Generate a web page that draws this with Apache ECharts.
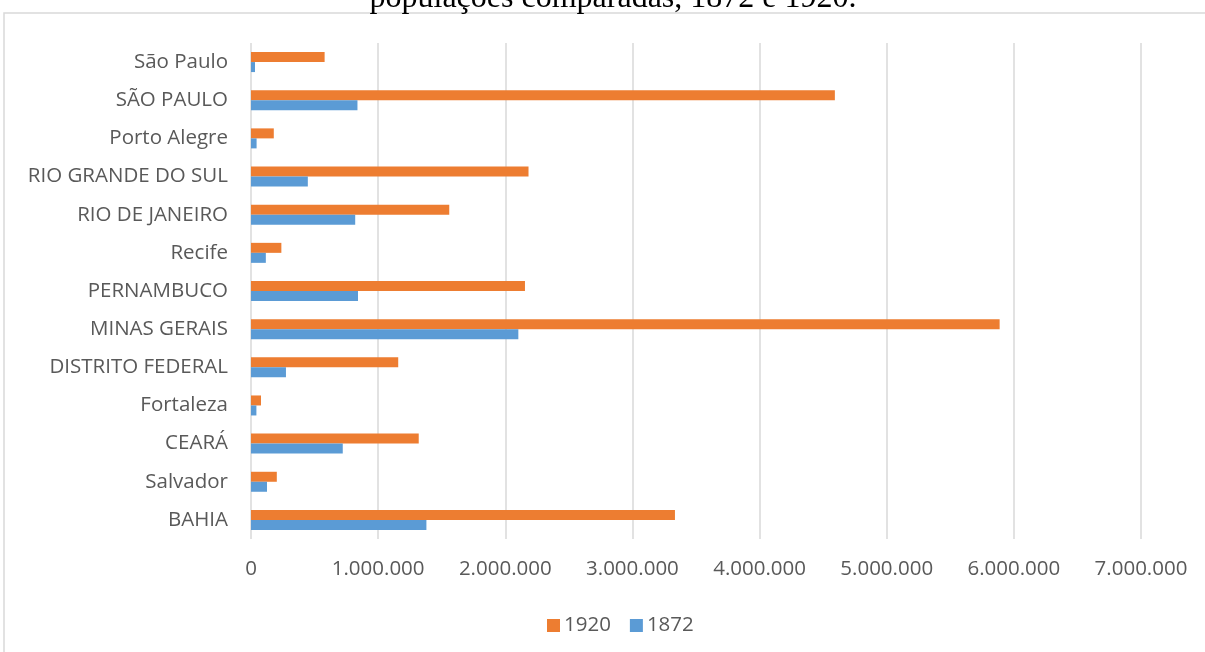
<!DOCTYPE html>
<html>
<head>
<meta charset="utf-8">
<script src="https://cdn.jsdelivr.net/npm/echarts@6/dist/echarts.min.js"></script>
<style>
  html, body { margin: 0; padding: 0; background: #ffffff; }
  #chart { width: 1205px; height: 652px; }
</style>
</head>
<body>
<div id="chart"></div>
<script>
// Localities, listed bottom to top as they appear on the category axis
const categories = ['BAHIA', 'Salvador', 'CEARÁ', 'Fortaleza', 'DISTRITO FEDERAL', 'MINAS GERAIS',
  'PERNAMBUCO', 'Recife', 'RIO DE JANEIRO', 'RIO GRANDE DO SUL', 'Porto Alegre', 'SÃO PAULO', 'São Paulo'];

// Population in 1920
const pop1920 = [3334465, 203000, 1319228, 78536, 1157873, 5888174,
  2154835, 238843, 1559371, 2182713, 179263, 4592188, 579033];

// Population in 1872
const pop1872 = [1379616, 126000, 721686, 42458, 274972, 2102689,
  841539, 116671, 819604, 446962, 43998, 837354, 31385];

const seriesNames = ['1920', '1872'];
const titleText = 'populações comparadas, 1872 e 1920.';

// Thousands separated by dots (pt-BR style)
function fmt(v) {
  return String(Math.round(v)).replace(/\B(?=(\d{3})+(?!\d))/g, '.');
}

const chart = echarts.init(document.getElementById('chart'), null, { renderer: 'canvas' });
const labelFont = '"Open Sans", "Noto Sans", sans-serif';

chart.setOption({
  backgroundColor: '#ffffff',
  animation: false,
  graphic: [
    {
      type: 'rect',
      shape: { x: 4, y: 13, width: 1220, height: 660 },
      style: { fill: 'none', stroke: '#d9d9d9', lineWidth: 1.5 },
      silent: true
    },
    {
      type: 'text',
      style: {
        x: 613, y: -1,
        text: titleText,
        font: '32px "Liberation Serif", "Times New Roman", serif',
        fill: '#000000',
        align: 'center',
        verticalAlign: 'middle'
      },
      silent: true
    }
  ],
  grid: { left: 251, right: 64, top: 43, bottom: 113, containLabel: false },
  legend: {
    data: seriesNames,
    left: 542,
    top: 610,
    itemWidth: 13,
    itemHeight: 13,
    itemGap: 19,
    icon: 'rect',
    textStyle: { fontFamily: labelFont, fontSize: 20.5, color: '#595959', padding: [0, 0, 0, -1] }
  },
  xAxis: {
    type: 'value',
    min: 0,
    max: 7000000,
    interval: 1000000,
    axisLine: { show: false },
    axisTick: { show: false },
    splitLine: { show: true, lineStyle: { color: '#d9d9d9', width: 1.5 } },
    axisLabel: {
      formatter: fmt,
      fontFamily: labelFont,
      fontSize: 20.5,
      color: '#595959',
      margin: 20
    }
  },
  yAxis: {
    type: 'category',
    data: categories,
    axisLine: { show: false },
    axisTick: { show: false },
    axisLabel: {
      fontFamily: labelFont,
      fontSize: 20.5,
      color: '#595959',
      margin: 23
    }
  },
  series: [
    {
      name: seriesNames[0],
      type: 'bar',
      data: pop1920,
      barWidth: 10,
      barGap: '0%',
      itemStyle: { color: '#ED7D31' }
    },
    {
      name: seriesNames[1],
      type: 'bar',
      data: pop1872,
      barWidth: 10,
      barGap: '0%',
      itemStyle: { color: '#5B9BD5' }
    }
  ]
});
</script>
</body>
</html>
